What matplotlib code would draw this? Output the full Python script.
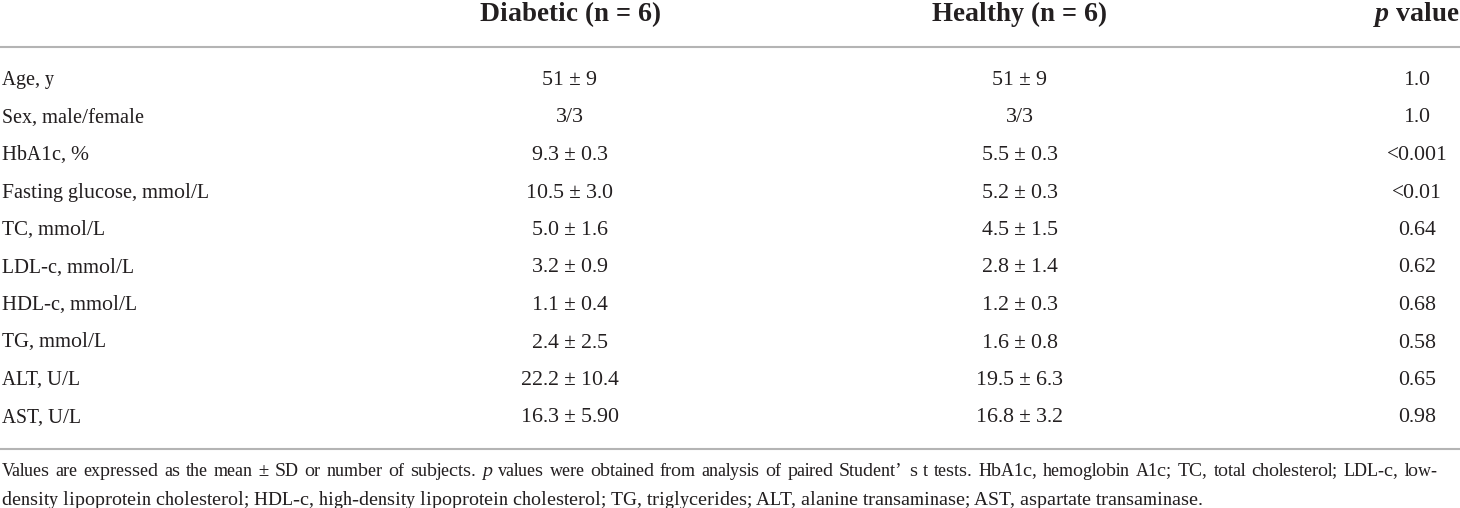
import matplotlib
matplotlib.use('Agg')
import matplotlib.pyplot as plt

# table content
col_heads = ['Diabetic (n = 6)', 'Healthy (n = 6)']
row_labels = ['Age, y', 'Sex, male/female', 'HbA1c, %', 'Fasting glucose, mmol/L',
              'TC, mmol/L', 'LDL-c, mmol/L', 'HDL-c, mmol/L', 'TG, mmol/L',
              'ALT, U/L', 'AST, U/L']
diabetic = ['51 ± 9', '3/3', '9.3 ± 0.3', '10.5 ± 3.0', '5.0 ± 1.6', '3.2 ± 0.9',
            '1.1 ± 0.4', '2.4 ± 2.5', '22.2 ± 10.4', '16.3 ± 5.90']
healthy = ['51 ± 9', '3/3', '5.5 ± 0.3', '5.2 ± 0.3', '4.5 ± 1.5', '2.8 ± 1.4',
           '1.2 ± 0.3', '1.6 ± 0.8', '19.5 ± 6.3', '16.8 ± 3.2']
p_values = ['1.0', '1.0', '<0.001', '<0.01', '0.64', '0.62', '0.68', '0.58', '0.65', '0.98']
note_line1 = ('Values are expressed as the mean ± SD or number of subjects. *p* values were '
              'obtained from analysis of paired Student’ s t tests. HbA1c, hemoglobin A1c; '
              'TC, total cholesterol; LDL-c, low-')
note_line2 = ('density lipoprotein cholesterol; HDL-c, high-density lipoprotein cholesterol; '
              'TG, triglycerides; ALT, alanine transaminase; AST, aspartate transaminase.')

plt.rcParams['text.hinting'] = 'native'
plt.rcParams['text.hinting_factor'] = 1

W, H = 1460, 508
FONT = 'Liberation Serif'
INK = '#231f20'
RULE = '#b4b4b4'
BODY = 15.0
HEAD = 19.5
NOTE1 = 14.0
NOTE2 = 14.4

fig = plt.figure(figsize=(W/100, H/100), dpi=100)
ax = fig.add_axes([0, 0, 1, 1])
ax.set_xlim(0, W)
ax.set_ylim(H, 0)
ax.axis('off')
rend = fig.canvas.get_renderer()

def text_width(t):
    return t.get_window_extent(renderer=rend).width

x_lab, x_dia, x_hea, x_p = 2, 570, 1020, 1417

# header
ax.text(x_dia, 21, col_heads[0], fontsize=HEAD, fontweight='bold', family=FONT,
        color=INK, ha='center', va='baseline')
ax.text(x_hea, 21, col_heads[1], fontsize=HEAD, fontweight='bold', family=FONT,
        color=INK, ha='center', va='baseline')
tp = ax.text(0, 21, 'p', fontsize=HEAD, fontweight='bold', style='italic', family=FONT,
             color=INK, ha='left', va='baseline')
tv = ax.text(0, 21, ' value', fontsize=HEAD, fontweight='bold', family=FONT,
             color=INK, ha='left', va='baseline')
wp, wv = text_width(tp), text_width(tv)
x0 = x_p - (wp + wv) / 2
tp.set_x(x0)
tv.set_x(x0 + wp)

# rules
ax.plot([0, W], [46.5, 46.5], color=RULE, lw=1.5, solid_capstyle='butt')
ax.plot([0, W], [449, 449], color=RULE, lw=1.5, solid_capstyle='butt')

# body rows
for i, lab in enumerate(row_labels):
    yb = 85 + 37.5 * i
    ax.text(x_lab, yb, lab, fontsize=BODY, family=FONT, color=INK, ha='left', va='baseline')
    ax.text(x_dia, yb, diabetic[i], fontsize=BODY, family=FONT, color=INK, ha='center', va='baseline')
    ax.text(x_hea, yb, healthy[i], fontsize=BODY, family=FONT, color=INK, ha='center', va='baseline')
    ax.text(x_p, yb, p_values[i], fontsize=BODY, family=FONT, color=INK, ha='center', va='baseline')

# footnote: first line justified word by word, second line as one run
def justify(line, yb, right, size):
    items = []
    for w in line.split(' '):
        ital = w.startswith('*') and w.endswith('*')
        w = w.strip('*')
        t = ax.text(0, yb, w, fontsize=size, family=FONT, color=INK, ha='left',
                    va='baseline', style='italic' if ital else 'normal')
        items.append((t, text_width(t)))
    total = sum(w for _, w in items)
    space = (right - x_lab - total) / (len(items) - 1)
    x = x_lab
    for t, w in items:
        t.set_x(x)
        x += w + space

justify(note_line1, 476, 1437, NOTE1)
ax.text(x_lab, 505, note_line2, fontsize=NOTE2, family=FONT, color=INK,
        ha='left', va='baseline')

fig.savefig('out.png', dpi=100)
